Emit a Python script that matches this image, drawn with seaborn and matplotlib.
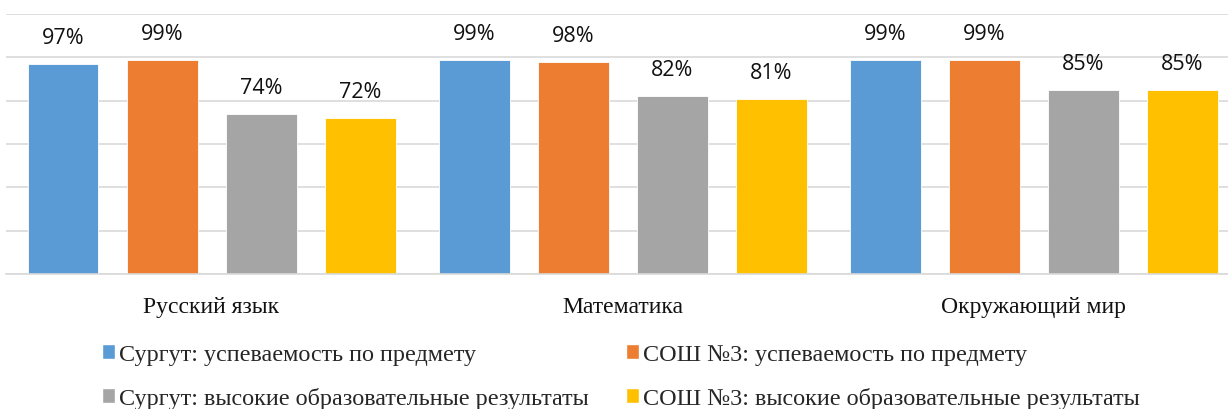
import pandas as pd
import matplotlib
matplotlib.use("Agg")
import matplotlib.pyplot as plt
import seaborn as sns
from matplotlib.patches import Patch

# Данные
subjects = ["Русский язык", "Математика", "Окружающий мир"]
series = [
    "Сургут: успеваемость по предмету",
    "СОШ №3: успеваемость по предмету",
    "Сургут: высокие образовательные результаты",
    "СОШ №3: высокие образовательные результаты",
]
values = [
    [0.97, 0.99, 0.74, 0.72],
    [0.99, 0.98, 0.82, 0.81],
    [0.99, 0.99, 0.85, 0.85],
]
colors = ["#5B9BD5", "#ED7D31", "#A5A5A5", "#FFC000"]

rows = []
for subj, vals in zip(subjects, values):
    for s, v in zip(series, vals):
        rows.append({"Предмет": subj, "Серия": s, "Доля": v})
df = pd.DataFrame(rows)

sns.set_style("white")
serif = ["Liberation Serif", "DejaVu Serif"]

fig = plt.figure(figsize=(12.28, 4.10), dpi=100)
ax = fig.add_axes([6 / 1228, 135 / 410, 1222 / 1228, 260 / 410])

sns.barplot(data=df, x="Предмет", y="Доля", hue="Серия", hue_order=series,
            palette=colors, width=0.9635, gap=0.283, saturation=1,
            edgecolor="white", linewidth=0.6, ax=ax, legend=False)

ax.set_ylim(0, 1.2)
ax.set_xlim(-0.5, 2.473)
ax.set_yticks([0, 0.2, 0.4, 0.6, 0.8, 1.0, 1.2])
ax.yaxis.grid(True, color="#D9D9D9", linewidth=1.2)
ax.set_axisbelow(True)
ax.set_yticklabels([])
ax.tick_params(axis="y", length=0)
ax.tick_params(axis="x", length=0, pad=16)
for lab in ax.get_xticklabels():
    lab.set_fontfamily(serif)
    lab.set_fontsize(17)
    lab.set_color("#111111")
ax.set_xlabel("")
ax.set_ylabel("")
for side in ["top", "right", "left"]:
    ax.spines[side].set_visible(False)
ax.spines["bottom"].set_color("#D9D9D9")
ax.spines["bottom"].set_linewidth(1.2)

# Подписи значений
for cont in ax.containers:
    for bar in cont:
        h = bar.get_height()
        ax.annotate(f"{h * 100:.0f}%", (bar.get_x() + bar.get_width() / 2, h),
                    xytext=(0, 19), textcoords="offset points",
                    ha="center", va="center", fontsize=15.5,
                    family=["Open Sans", "DejaVu Sans"], color="#111111")

# Легенда
handles = [Patch(facecolor=c) for c in colors]
order = [0, 2, 1, 3]
fig.legend([handles[i] for i in order], [series[i] for i in order],
           ncol=2, loc="upper left", bbox_to_anchor=(102 / 1228, 1 - 345 / 410),
           frameon=False, prop={"family": serif, "size": 17.4},
           handlelength=0.55, handleheight=0.55, handletextpad=0.15,
           columnspacing=1.55, labelspacing=0.92, borderaxespad=0, borderpad=0)

fig.savefig("out.png", dpi=100)
